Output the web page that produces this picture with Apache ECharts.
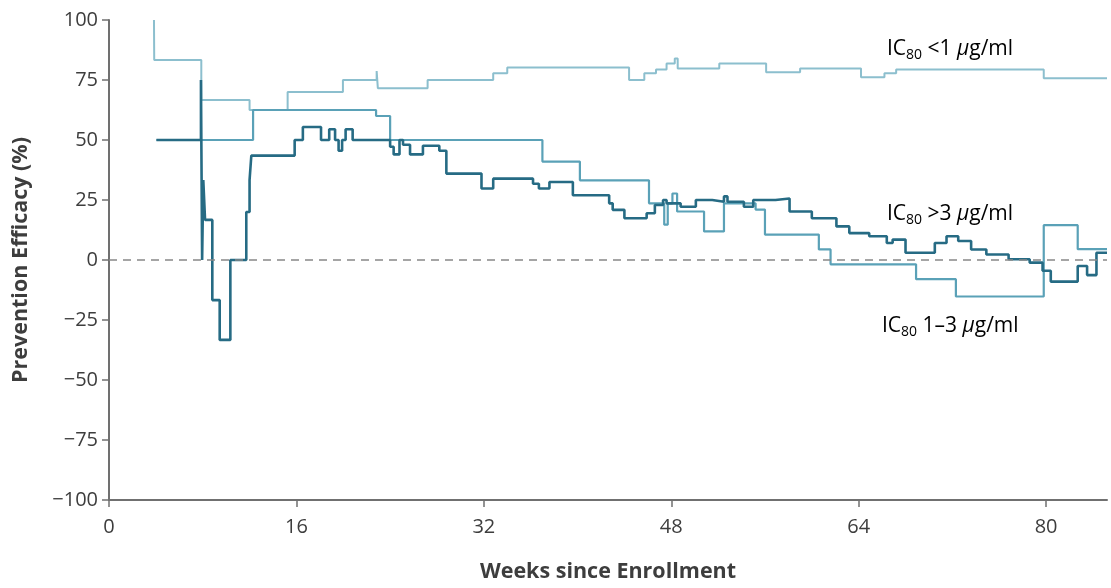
<!DOCTYPE html>
<html>
<head>
<meta charset="utf-8">
<script src="https://cdn.jsdelivr.net/npm/echarts@6/dist/echarts.min.js"></script>
<style>html,body{margin:0;padding:0;background:#fff}#c{width:1111px;height:588px}</style>
</head>
<body>
<div id="c"></div>
<script>
// IC80 <1 µg/ml
var lowWeeks = [3.84, 3.86, 7.88, 12.0, 15.25, 19.97, 22.85, 22.95, 27.2, 32.8, 34.0, 44.4, 45.7, 46.7, 47.6, 48.3, 48.55, 52.1, 56.1, 59.0, 64.2, 66.2, 67.2, 79.8, 85.2];
var lowEff   = [100, 83.3, 66.7, 62.5, 70, 75, 78.7, 71.6, 75, 77.8, 80.2, 75, 77.8, 79.4, 81.9, 84, 79.8, 81.9, 78.2, 79.8, 76.1, 77.8, 79.4, 75.7, 75.7];
// IC80 1–3 µg/ml
var midWeeks = [4.05, 12.3, 22.8, 24.0, 37.0, 40.2, 46.1, 47.4, 47.7, 48.1, 48.5, 50.8, 52.5, 55.2, 56.0, 60.6, 61.6, 68.9, 72.3, 79.8, 82.7, 85.2];
var midEff   = [50, 62.5, 60, 50, 41, 33.2, 23.6, 14.7, 23.6, 27.7, 20.2, 11.9, 23.6, 21, 10.6, 4.4, -1.8, -8, -15.2, 14.5, 4.5, 4.5];
// IC80 >3 µg/ml
var highWeeks = [4.05, 7.85, 7.95, 8.05, 8.2, 8.82, 9.45, 10.36, 11.72, 12.0, 12.15, 15.85, 16.55, 18.1, 18.8, 19.3, 19.6, 19.9, 20.2, 20.8, 24.0, 24.3, 24.8, 25.1, 25.7, 26.8, 28.2, 28.8, 31.8, 32.8, 36.2, 36.7, 37.6, 39.6, 42.7, 43.0, 44.0, 45.9, 46.6, 47.3, 47.6, 48.8, 50.1, 51.5, 52.5, 52.8, 54.2, 55.0, 56.9, 58.1, 60.0, 62.1, 63.2, 64.9, 66.4, 66.9, 68.0, 70.5, 71.5, 72.5, 73.6, 74.9, 76.8, 78.6, 79.7, 80.4, 82.7, 83.5, 84.3, 85.2];
var highEff   = [50, 75, 0, 33.3, 16.7, -16.7, -33.3, 0, 20, 33.3, 43.5, 50, 55.4, 50, 54.5, 50, 45.5, 50, 54.5, 50, 47.2, 44, 50, 48, 44, 47.6, 45.5, 36, 29.8, 33.9, 31.8, 29.8, 32.5, 27, 23.6, 20.9, 17.4, 19.5, 22.9, 25, 23.6, 22.2, 25, 24.3, 26.5, 24.3, 22.2, 25, 25.6, 20.2, 17.4, 14, 11.2, 9.9, 7.1, 8.5, 3, 7.1, 9.9, 7.9, 4.4, 2.3, 0.3, -1.1, -4.5, -9, -2.5, -6.3, 3, 3];

var xTicks = [0, 16, 32, 48, 64, 80];
var yTicks = [-100, -75, -50, -25, 0, 25, 50, 75, 100];

function zip(a, b) { return a.map(function (v, i) { return [v, b[i]]; }); }

var FONT = 'Open Sans';
var TXT = '#3d3d3d';
var AX = '#707070';

var chart = echarts.init(document.getElementById('c'), null, {renderer: 'canvas'});
var rich = {
  a: {fontSize: 21, fontFamily: FONT, color: TXT, lineHeight: 26, verticalAlign: 'middle'},
  s: {fontSize: 14, fontFamily: FONT, color: TXT, lineHeight: 14, verticalAlign: 'bottom'},
  i: {fontSize: 21, fontFamily: FONT, color: TXT, fontStyle: 'italic', lineHeight: 26, verticalAlign: 'middle'}
};
function lab(x, y, mid) {
  return {type: 'text', x: x, y: y, style: {text: '{a|IC}{s|80}{a| ' + mid + ' }{i|µ}{a|g/ml}', rich: rich, verticalAlign: 'middle', align: 'left'}};
}
chart.setOption({
  animation: false,
  backgroundColor: '#fff',
  grid: {left: 109, right: 4, top: 20, bottom: 82, containLabel: false},
  xAxis: {
    type: 'value', min: 0, max: 85.2, interval: 16,
    name: 'Weeks since Enrollment', nameLocation: 'middle', nameGap: 61,
    nameTextStyle: {fontFamily: FONT, fontSize: 21.5, fontWeight: 'bold', color: TXT},
    axisLine: {show: true, onZero: false, lineStyle: {color: AX, width: 2}},
    axisTick: {show: true, length: 7, customValues: xTicks, lineStyle: {color: AX, width: 1.5}},
    axisLabel: {customValues: xTicks, fontFamily: FONT, fontSize: 20, color: TXT, margin: 17},
    splitLine: {show: false}
  },
  yAxis: {
    type: 'value', min: -100, max: 100, interval: 25,
    name: 'Prevention Efficacy (%)', nameLocation: 'middle', nameGap: 77, nameRotate: 90,
    nameTextStyle: {fontFamily: FONT, fontSize: 21.5, fontWeight: 'bold', color: TXT},
    axisLine: {show: true, lineStyle: {color: AX, width: 2}},
    axisTick: {show: true, length: 7, customValues: yTicks, lineStyle: {color: AX, width: 1.5}},
    axisLabel: {customValues: yTicks, fontFamily: FONT, fontSize: 20, color: TXT, margin: 11,
      formatter: function (v) { return String(v).replace('-', '\u2212'); }},
    splitLine: {show: false}
  },
  series: [
    {type: 'line', name: 'zero', data: [], silent: true,
      markLine: {symbol: 'none', silent: true, label: {show: false},
        lineStyle: {color: '#888', type: [8, 6], width: 1.6}, data: [{yAxis: 0}]}},
    {type: 'line', name: 'IC80 <1', step: 'end', showSymbol: false, data: zip(lowWeeks, lowEff),
      lineStyle: {color: '#8cbfce', width: 2}, itemStyle: {color: '#8cbfce'}},
    {type: 'line', name: 'IC80 1-3', step: 'end', showSymbol: false, data: zip(midWeeks, midEff),
      lineStyle: {color: '#5aa1b7', width: 2.2}, itemStyle: {color: '#5aa1b7'}},
    {type: 'line', name: 'IC80 >3', step: 'end', showSymbol: false, data: zip(highWeeks, highEff),
      lineStyle: {color: '#266b84', width: 2.6}, itemStyle: {color: '#266b84'}}
  ],
  graphic: [
    lab(887, 49, '<1'),
    lab(887, 214, '>3'),
    lab(882, 326, '1\u20133')
  ]
});
</script>
</body>
</html>
